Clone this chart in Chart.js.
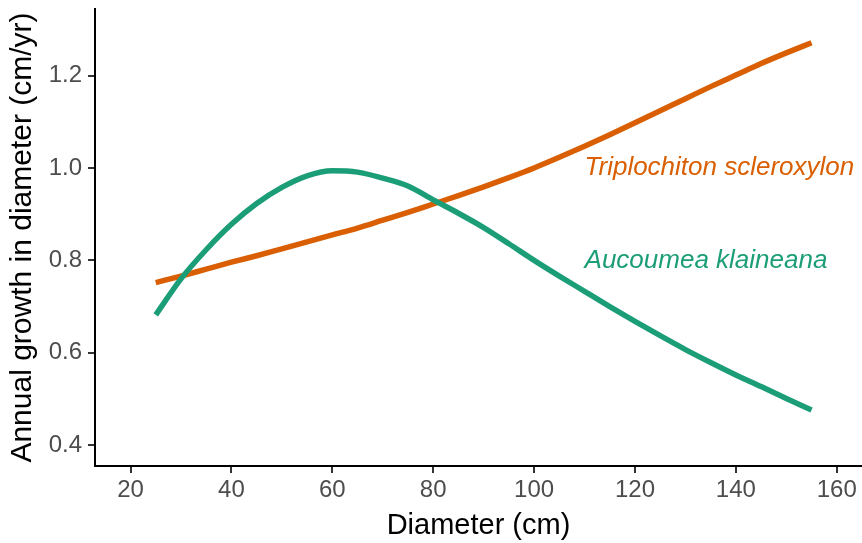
<!DOCTYPE html>
<html>
<head>
<meta charset="utf-8">
<script src="https://cdn.jsdelivr.net/npm/chart.js@4"></script>
<style>
  html, body { margin: 0; padding: 0; background: #fff; }
  #wrap { width: 862px; height: 543px; }
</style>
</head>
<body>
<div id="wrap"><canvas id="myCanvas"></canvas></div>
<script>
const diameter = [25, 30, 35, 40, 45, 50, 55, 60, 65, 70, 75, 80, 85, 90, 95,
  100, 105, 110, 115, 120, 125, 130, 135, 140, 145, 150, 155];

const triplochiton = [0.752, 0.766, 0.781, 0.796, 0.810, 0.825, 0.840, 0.855, 0.870,
  0.887, 0.904, 0.922, 0.940, 0.959, 0.979, 1.000, 1.023, 1.047, 1.072, 1.098,
  1.124, 1.150, 1.176, 1.201, 1.226, 1.249, 1.271];

const aucoumea = [0.682, 0.760, 0.823, 0.878, 0.923, 0.958, 0.983, 0.994, 0.991,
  0.978, 0.961, 0.931, 0.902, 0.871, 0.836, 0.800, 0.766, 0.733, 0.700, 0.668,
  0.637, 0.607, 0.579, 0.552, 0.527, 0.501, 0.476];

const xTicks = [20, 40, 60, 80, 100, 120, 140, 160];
const yTicks = [0.4, 0.6, 0.8, 1.0, 1.2];

const seriesNames = ['Triplochiton scleroxylon', 'Aucoumea klaineana'];
const seriesColors = ['#D95F02', '#1B9E77'];
const labelX = [110, 110];
const labelY = [1.0, 0.8];

function toPoints(ys) {
  return diameter.map((d, i) => ({ x: d, y: ys[i] }));
}

const fontFamily = '"Liberation Sans", Arial, sans-serif';

// species names written next to the curves, anchored at data coords
const speciesLabels = {
  id: 'speciesLabels',
  afterDatasetsDraw(chart) {
    const ctx = chart.ctx;
    const xs = chart.scales.x, ys = chart.scales.y;
    ctx.save();
    ctx.font = 'italic 26px ' + fontFamily;
    ctx.textAlign = 'left';
    ctx.textBaseline = 'middle';
    seriesNames.forEach((name, i) => {
      ctx.fillStyle = seriesColors[i];
      ctx.fillText(name, xs.getPixelForValue(labelX[i]), ys.getPixelForValue(labelY[i]));
    });
    ctx.restore();
  }
};

const data = {
  datasets: [
    {
      label: seriesNames[1],
      data: toPoints(aucoumea),
      borderColor: seriesColors[1],
      borderWidth: 5.5,
      pointRadius: 0,
      cubicInterpolationMode: 'monotone'
    },
    {
      label: seriesNames[0],
      data: toPoints(triplochiton),
      borderColor: seriesColors[0],
      borderWidth: 5.5,
      pointRadius: 0,
      cubicInterpolationMode: 'monotone'
    }
  ]
};

const config = {
  type: 'line',
  data: data,
  options: {
    responsive: true,
    maintainAspectRatio: false,
    animation: false,
    layout: { padding: { top: 9, right: 0, bottom: 0, left: 0 } },
    plugins: { legend: { display: false }, tooltip: { enabled: false } },
    scales: {
      x: {
        type: 'linear',
        min: 12.96,
        max: 165,
        afterBuildTicks: (s) => { s.ticks = xTicks.map(v => ({ value: v })); },
        afterFit: (s) => { s.height = 77; s.paddingLeft = 0; s.paddingRight = 0; },
        grid: { display: true, drawOnChartArea: false, drawTicks: true, tickLength: 7, color: '#333', lineWidth: 2 },
        border: { display: true, color: '#000', width: 2 },
        ticks: { color: '#4D4D4D', padding: 3, font: { family: fontFamily, size: 24 }, maxRotation: 0 },
        title: { display: true, text: 'Diameter (cm)', color: '#000', font: { family: fontFamily, size: 29 }, padding: { top: 0, bottom: 0 } }
      },
      y: {
        type: 'linear',
        min: 0.355,
        max: 1.344,
        afterBuildTicks: (s) => { s.ticks = yTicks.map(v => ({ value: v })); },
        afterFit: (s) => { s.width = 95; s.paddingTop = 0; s.paddingBottom = 0; },
        grid: { display: true, drawOnChartArea: false, drawTicks: true, tickLength: 7, color: '#333', lineWidth: 2 },
        border: { display: true, color: '#000', width: 2 },
        ticks: { color: '#4D4D4D', padding: 6, font: { family: fontFamily, size: 24 }, callback: (v) => Number(v).toFixed(1) },
        title: { display: true, text: 'Annual growth in diameter (cm/yr)', color: '#000', font: { family: fontFamily, size: 30 }, padding: { top: 5, bottom: 0 } }
      }
    }
  },
  plugins: [speciesLabels]
};

const myChart = new Chart(document.getElementById('myCanvas'), config);
</script>
</body>
</html>
